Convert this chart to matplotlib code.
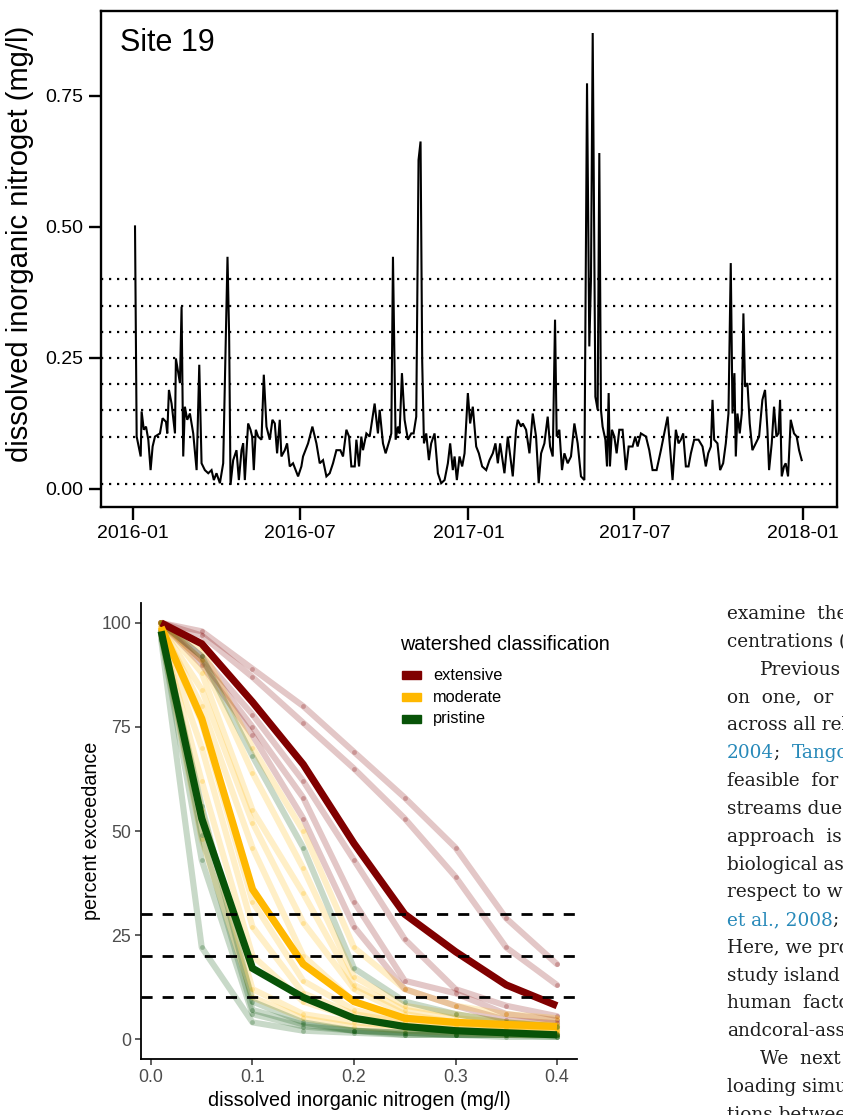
import numpy as np
import pandas as pd
import matplotlib
matplotlib.use("Agg")
import matplotlib.pyplot as plt
import matplotlib.dates as mdates
from matplotlib.ticker import FormatStrFormatter
from matplotlib.patches import Rectangle

plt.rcParams['font.family'] = ['Liberation Sans', 'DejaVu Sans']

# Site 19: дни от 2016-01-01 и DIN (mg/l)
day = [2.2, 4.0, 8.4, 9.4, 11.8, 14.2, 16.7, 19.2, 21.4, 24.0, 29.4, 32.3, 36.0, 37.4, 39.2,
       42.1, 45.8, 46.8, 51.2, 53.0, 54.8, 56.6, 59.2, 62.1, 65.7, 69.4, 72.3, 74.8, 78.4,
       82.1, 85.7, 88.2, 91.1, 94.8, 98.4, 101.3, 103.1, 104.9, 106.4, 109.3, 112.9, 115.5,
       118.4, 120.2, 122.0, 125.6, 128.2, 130.0, 131.8, 134.0, 136.5, 140.2, 142.7, 145.6,
       149.2, 152.1, 154.7, 157.2, 160.1, 161.9, 165.6, 168.1, 171.0, 174.6, 180.1, 183.7,
       185.5, 191.0, 195.7, 200.1, 203.7, 207.3, 211.0, 214.6, 218.2, 221.9, 226.2, 229.1,
       232.8, 235.7, 238.2, 241.9, 243.7, 246.6, 249.1, 250.9, 254.6, 258.2, 263.6, 267.2,
       269.1, 272.7, 275.6, 280.0, 281.8, 283.6, 286.5, 289.0, 290.8, 293.4, 296.3, 299.9,
       303.6, 306.1, 309.0, 311.5, 313.7, 315.5, 317.4, 319.9, 322.8, 325.3, 329.0, 332.6,
       336.2, 339.9, 343.5, 346.0, 348.9, 350.8, 353.3, 356.2, 359.1, 361.7, 365.3, 367.8,
       370.7, 374.4, 377.3, 380.9, 385.3, 388.9, 392.5, 395.4, 398.0, 400.5, 405.2, 408.9,
       414.3, 417.9, 419.7, 423.4, 425.2, 428.8, 432.5, 436.1, 439.7, 442.6, 445.2, 448.8,
       452.4, 455.0, 457.9, 460.4, 462.2, 465.1, 468.0, 470.6, 474.2, 477.8, 481.5, 485.1,
       488.7, 492.4, 495.3, 497.8, 499.6, 501.5, 504.4, 506.9, 508.7, 510.5, 512.3, 515.3,
       517.1, 518.9, 520.3, 522.5, 525.1, 527.6, 530.5, 534.1, 537.8, 540.7, 545.0, 547.9,
       550.5, 554.1, 559.6, 563.2, 566.8, 571.2, 575.9, 579.5, 583.2, 585.7, 588.6, 592.2,
       595.1, 597.7, 600.2, 603.1, 606.0, 608.6, 612.2, 616.9, 621.3, 624.9, 627.5, 630.4,
       632.2, 634.0, 637.6, 640.5, 643.8, 646.7, 649.6, 652.1, 654.0, 656.1, 657.6, 659.4,
       661.9, 664.1, 665.9, 667.7, 670.3, 672.8, 675.7, 679.4, 683.0, 686.6, 689.5, 692.1,
       693.9, 696.8, 699.3, 701.9, 704.1, 705.9, 707.7, 710.2, 712.0, 714.6, 717.5, 721.1,
       724.0, 726.6, 729.5]
din = [0.501, 0.100, 0.062, 0.148, 0.113, 0.119, 0.094, 0.036, 0.081, 0.100, 0.106, 0.135, 0.128, 0.106, 0.189,
       0.163, 0.106, 0.249, 0.202, 0.348, 0.062, 0.157, 0.132, 0.144, 0.106, 0.036, 0.237, 0.049, 0.036,
       0.030, 0.036, 0.017, 0.030, 0.011, 0.049, 0.297, 0.443, 0.291, 0.008, 0.055, 0.074, 0.017,
       0.074, 0.087, 0.017, 0.125, 0.113, 0.100, 0.036, 0.113, 0.100, 0.094, 0.218, 0.119,
       0.094, 0.132, 0.125, 0.068, 0.132, 0.062, 0.074, 0.087, 0.043, 0.049, 0.024, 0.043,
       0.062, 0.087, 0.119, 0.087, 0.049, 0.055, 0.024, 0.030, 0.049, 0.074, 0.074, 0.062,
       0.113, 0.100, 0.043, 0.043, 0.094, 0.043, 0.100, 0.074, 0.106, 0.100, 0.163, 0.106,
       0.151, 0.087, 0.068, 0.094, 0.106, 0.443, 0.094, 0.119, 0.106, 0.221, 0.132, 0.094,
       0.106, 0.106, 0.138, 0.628, 0.663, 0.243, 0.087, 0.106, 0.055, 0.087, 0.106, 0.030,
       0.011, 0.017, 0.049, 0.087, 0.036, 0.062, 0.017, 0.062, 0.043, 0.068, 0.183, 0.125,
       0.157, 0.081, 0.068, 0.043, 0.036, 0.055, 0.068, 0.087, 0.049, 0.087, 0.030, 0.100,
       0.024, 0.113, 0.132, 0.119, 0.125, 0.113, 0.068, 0.144, 0.100, 0.011, 0.068, 0.087,
       0.138, 0.081, 0.062, 0.323, 0.100, 0.113, 0.036, 0.068, 0.049, 0.062, 0.125, 0.087,
       0.024, 0.017, 0.774, 0.272, 0.399, 0.870, 0.176, 0.151, 0.641, 0.151, 0.119, 0.094,
       0.043, 0.183, 0.043, 0.113, 0.100, 0.068, 0.113, 0.113, 0.036, 0.081, 0.081, 0.100,
       0.081, 0.106, 0.100, 0.074, 0.036, 0.036, 0.074, 0.106, 0.138, 0.081, 0.017, 0.113,
       0.087, 0.094, 0.106, 0.043, 0.043, 0.068, 0.094, 0.094, 0.081, 0.043, 0.068, 0.081,
       0.170, 0.094, 0.087, 0.036, 0.049, 0.087, 0.144, 0.431, 0.144, 0.221, 0.062, 0.144,
       0.106, 0.144, 0.335, 0.195, 0.202, 0.125, 0.074, 0.087, 0.100, 0.170, 0.189, 0.113,
       0.036, 0.087, 0.157, 0.100, 0.106, 0.170, 0.024, 0.043, 0.049, 0.024, 0.132, 0.106,
       0.100, 0.074, 0.055]
thresholds = [0.01, 0.1, 0.15, 0.2, 0.25, 0.3, 0.35, 0.4]

# Кривые превышения по водосборам
conc = [0.01, 0.05, 0.1, 0.15, 0.2, 0.25, 0.3, 0.35, 0.4]
sites_extensive = [
    [100, 98, 89, 80, 69, 58, 46, 29, 18],
    [100, 97, 87, 76, 65, 53, 39, 22, 13],
    [100, 92, 78, 62, 43, 24, 12, 8, 5.5],
    [100, 91, 75, 58, 33, 14, 11, 6, 4.5],
    [100, 90, 73, 53, 27, 12, 8, 4.6, 3.8],
]
sites_moderate = [
    [100, 94, 70, 50, 22, 12, 8, 6, 5],
    [100, 91, 64, 41, 15, 8, 6, 4, 3.5],
    [100, 88, 55, 35, 13, 7, 5, 4, 3],
    [99, 84, 52, 28, 12, 6, 4, 3, 3],
    [99, 80, 46, 20, 9, 5, 4, 3, 2.5],
    [99, 76, 33, 14, 7, 4, 3, 2.5, 2],
    [98, 70, 27, 11, 6, 4, 3, 2, 2],
    [98, 62, 20, 9, 5, 3, 2.5, 2, 1.5],
    [98, 55, 12, 6, 4, 3, 2, 1.5, 1],
    [97, 48, 10, 5, 3, 2, 1.5, 1, 1],
]
sites_pristine = [
    [96, 22, 4, 2, 1.5, 1, 1, 0.5, 0.5],
    [97, 43, 6, 3, 2, 1, 1, 1, 0.5],
    [98, 49, 7, 3.5, 2, 1.5, 1, 1, 1],
    [98, 56, 9, 4, 2, 1.5, 1, 1, 1],
    [100, 92, 68, 46, 17, 9, 6, 4, 3],
]
mean_extensive = [100, 95, 81, 66, 47, 30, 21, 13, 8]
mean_moderate = [99, 77, 36, 18, 9, 5, 4, 3.5, 3]
mean_pristine = [98, 53, 17, 10, 5, 3, 2, 1.5, 1]
classes = ['extensive', 'moderate', 'pristine']
class_colors = ['#800000', '#ffb800', '#085308']
dashed_levels = [30, 20, 10]

W, H = 843, 1115
fig = plt.figure(figsize=(W / 100, H / 100), dpi=100)


def box(l, t, r, b):
    # пиксели -> доли фигуры
    return [l / W, 1 - b / H, (r - l) / W, (b - t) / H]


# ---------- верхний график
ax1 = fig.add_axes(box(101, 11, 837, 507))
t0 = pd.Timestamp('2016-01-01')
dates = t0 + pd.to_timedelta(day, unit='D')
for th in thresholds:
    ax1.axhline(th, color='black', lw=1.6, linestyle=(0, (1, 2.6)))
ax1.plot(dates, din, color='black', lw=1.5, solid_joinstyle='miter')
ax1.set_xlim(t0 - pd.Timedelta(days=34.9), t0 + pd.Timedelta(days=768))
ax1.set_ylim(-0.0344, 0.912)
ax1.set_yticks([0, 0.25, 0.5, 0.75])
ax1.yaxis.set_major_formatter(FormatStrFormatter('%.2f'))
ax1.set_xticks(pd.to_datetime(['2016-01-01', '2016-07-01', '2017-01-01', '2017-07-01', '2018-01-01']))
ax1.xaxis.set_major_formatter(mdates.DateFormatter('%Y-%m'))
for s in ax1.spines.values():
    s.set_linewidth(1.7)
ax1.tick_params(length=9, width=1.7, labelsize=14, pad=4, colors='black')
ax1.text(0.026, 0.935, 'Site 19', transform=ax1.transAxes, fontsize=22, va='center', ha='left')
fig.text(20 / W, 1 - 244 / H, 'dissolved inorganic nitroget (mg/l)', rotation=90,
         ha='center', va='center', fontsize=21)

# ---------- нижний график
ax2 = fig.add_axes(box(141, 603, 577, 1059))
groups = [sites_extensive, sites_moderate, sites_pristine]
for sites, c in zip(groups, class_colors):
    for vals in sites:
        ax2.plot(conc, vals, color=c, lw=4.4, alpha=0.22, solid_joinstyle='round',
                 solid_capstyle='round', zorder=2)
        ax2.plot(conc, vals, 'o', color=c, ms=3.5, alpha=0.25, mec='none', zorder=2)
for vals, c in zip([mean_extensive, mean_moderate, mean_pristine], class_colors):
    ax2.plot(conc, vals, color=c, lw=5.2, solid_joinstyle='miter', solid_capstyle='butt', zorder=3)
for lv in dashed_levels:
    ax2.axhline(lv, color='black', lw=2.0, linestyle=(0, (4, 3.6)), zorder=4)

ax2.set_xlim(-0.00985, 0.4197)
ax2.set_ylim(-4.8, 104.8)
ax2.set_xticks([0, 0.1, 0.2, 0.3, 0.4])
ax2.xaxis.set_major_formatter(FormatStrFormatter('%.1f'))
ax2.set_yticks([0, 25, 50, 75, 100])
ax2.spines['top'].set_visible(False)
ax2.spines['right'].set_visible(False)
for s in ['left', 'bottom']:
    ax2.spines[s].set_linewidth(1.3)
ax2.tick_params(length=4, width=1.1, color='#333333', labelcolor='#4d4d4d', labelsize=12.8, pad=3)
ax2.set_xlabel('dissolved inorganic nitrogen (mg/l)', fontsize=14.2)
ax2.set_ylabel('percent exceedance', fontsize=14.2)
ax2.xaxis.set_label_coords((359 - 141) / 436, -(1091 - 1059) / 456)
ax2.yaxis.set_label_coords(-(141 - 101) / 436, 0.5)

# легенда
fig.text(400 / W, 1 - 645 / H, 'watershed classification', fontsize=14.2, va='center', ha='left')
for i, (lab, c) in enumerate(zip(classes, class_colors)):
    yc = 675 + 22 * i
    fig.patches.append(Rectangle((402 / W, 1 - (yc + 4) / H), 19 / W, 8 / H,
                                 transform=fig.transFigure, color=c, figure=fig))
    fig.text(433 / W, 1 - yc / H, lab, fontsize=11.8, va='center', ha='left')

# ---------- колонка текста справа (обрезана краем страницы, как в оригинале)
tax = fig.add_axes([0, 0, 1, 1])
tax.set_xlim(0, W)
tax.set_ylim(H, 0)
tax.axis('off')
k, b = '#1e1e1e', '#2789b9'
page_lines = [
    [("examine  the", k)],
    [("centrations (", k)],
    [("Previous", k)],
    [("on  one,  or  a", k)],
    [("across all rel", k)],
    [("2004", b), (";  ", k), ("Tango", b)],
    [("feasible  for", k)],
    [("streams due", k)],
    [("approach  is", k)],
    [("biological as", k)],
    [("respect to wa", k)],
    [("et al., 2008", b), ("; ", k)],
    [("Here, we pro", k)],
    [("study island", k)],
    [("human  facto", k)],
    [("andcoral-ass", k)],
    [("We  next", k)],
    [("loading simu", k)],
    [("tions betwee", k)],
]
indented = [2, 16]
for i, segs in enumerate(page_lines):
    x0 = 760 if i in indented else 727
    yb = 619.3 + 27.8 * i
    prev = None
    for txt, col in segs:
        if prev is None:
            prev = tax.text(x0, yb, txt, color=col, fontsize=13.3, family='DejaVu Serif',
                            va='baseline', ha='left')
        else:
            prev = tax.annotate(txt, xy=(1, 0), xycoords=prev, color=col, fontsize=13.3,
                                family='DejaVu Serif', va='bottom', ha='left')

fig.savefig('out.png', dpi=100)
